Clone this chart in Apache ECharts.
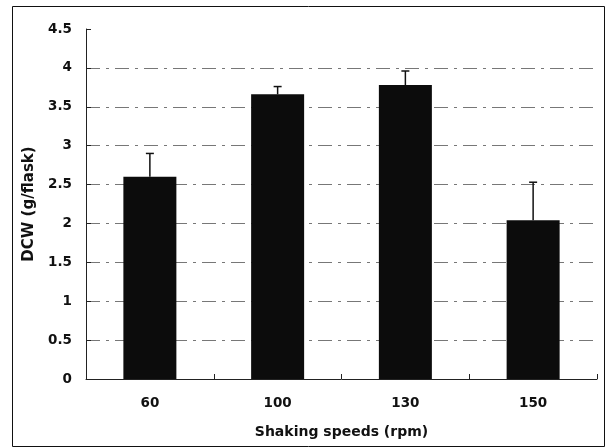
<!DOCTYPE html>
<html>
<head>
<meta charset="utf-8">
<script src="https://cdn.jsdelivr.net/npm/echarts@6/dist/echarts.min.js"></script>
<style>
  html, body { margin: 0; padding: 0; background: #fff; }
  #chart { width: 606px; height: 448px; }
</style>
</head>
<body>
<div id="chart"></div>
<script>
// Dry cell weight at each shaking speed, with standard deviation
const speeds = ['60', '100', '130', '150'];
const dcw = [2.6, 3.66, 3.78, 2.04];
const dcwErr = [0.3, 0.1, 0.18, 0.49];
const yTicks = [0, 0.5, 1, 1.5, 2, 2.5, 3, 3.5, 4, 4.5];

const chart = echarts.init(document.getElementById('chart'), null, { renderer: 'canvas' });
const font = 'DejaVu Sans, Verdana, sans-serif';

chart.setOption({
  backgroundColor: '#fff',
  animation: false,
  graphic: [{
    type: 'rect',
    shape: { x: 12.5, y: 6.5, width: 592, height: 440 },
    style: { fill: 'none', stroke: '#111', lineWidth: 1 }
  }],
  grid: { left: 86, right: 9, top: 29, bottom: 69 },
  xAxis: {
    type: 'category',
    data: speeds,
    name: 'Shaking speeds (rpm)',
    nameLocation: 'middle',
    nameGap: 46,
    nameTextStyle: { fontFamily: font, fontWeight: 'bold', fontSize: 14, color: '#111' },
    axisLine: { lineStyle: { color: '#222', width: 1 } },
    axisTick: { show: true, inside: true, length: 5, alignWithLabel: false, lineStyle: { color: '#222' } },
    axisLabel: { fontFamily: font, fontWeight: 'bold', fontSize: 13.5, color: '#111', margin: 17 },
    splitLine: { show: false }
  },
  yAxis: {
    type: 'value',
    min: yTicks[0],
    max: yTicks[yTicks.length - 1],
    interval: 0.5,
    name: 'DCW (g/flask)',
    nameLocation: 'middle',
    nameGap: 49,
    nameRotate: 90,
    nameTextStyle: { fontFamily: font, fontWeight: 'bold', fontSize: 15, color: '#111' },
    axisLine: { show: true, lineStyle: { color: '#222', width: 1 } },
    axisTick: { show: true, inside: true, length: 5, lineStyle: { color: '#222' } },
    axisLabel: { fontFamily: font, fontWeight: 'bold', fontSize: 13.5, color: '#111', margin: 14 },
    splitLine: {
      show: true, showMinLine: false, showMaxLine: false,
      lineStyle: { color: '#777', width: 1, type: [14, 6, 3, 6] }
    }
  },
  series: [
    {
      type: 'bar',
      data: dcw,
      barWidth: 53,
      itemStyle: { color: '#0c0c0c' },
      z: 2
    },
    {
      type: 'custom',
      z: 3,
      data: dcw.map((v, i) => [i, v, v + dcwErr[i]]),
      renderItem: function (params, api) {
        const top = api.coord([api.value(0), api.value(1)]);
        const hi = api.coord([api.value(0), api.value(2)]);
        const half = 4;
        return {
          type: 'group',
          children: [
            { type: 'line', shape: { x1: top[0], y1: top[1], x2: hi[0], y2: hi[1] },
              style: { stroke: '#111', lineWidth: 1.5 } },
            { type: 'line', shape: { x1: hi[0] - half, y1: hi[1], x2: hi[0] + half, y2: hi[1] },
              style: { stroke: '#111', lineWidth: 1.5 } }
          ]
        };
      }
    }
  ]
});
</script>
</body>
</html>
